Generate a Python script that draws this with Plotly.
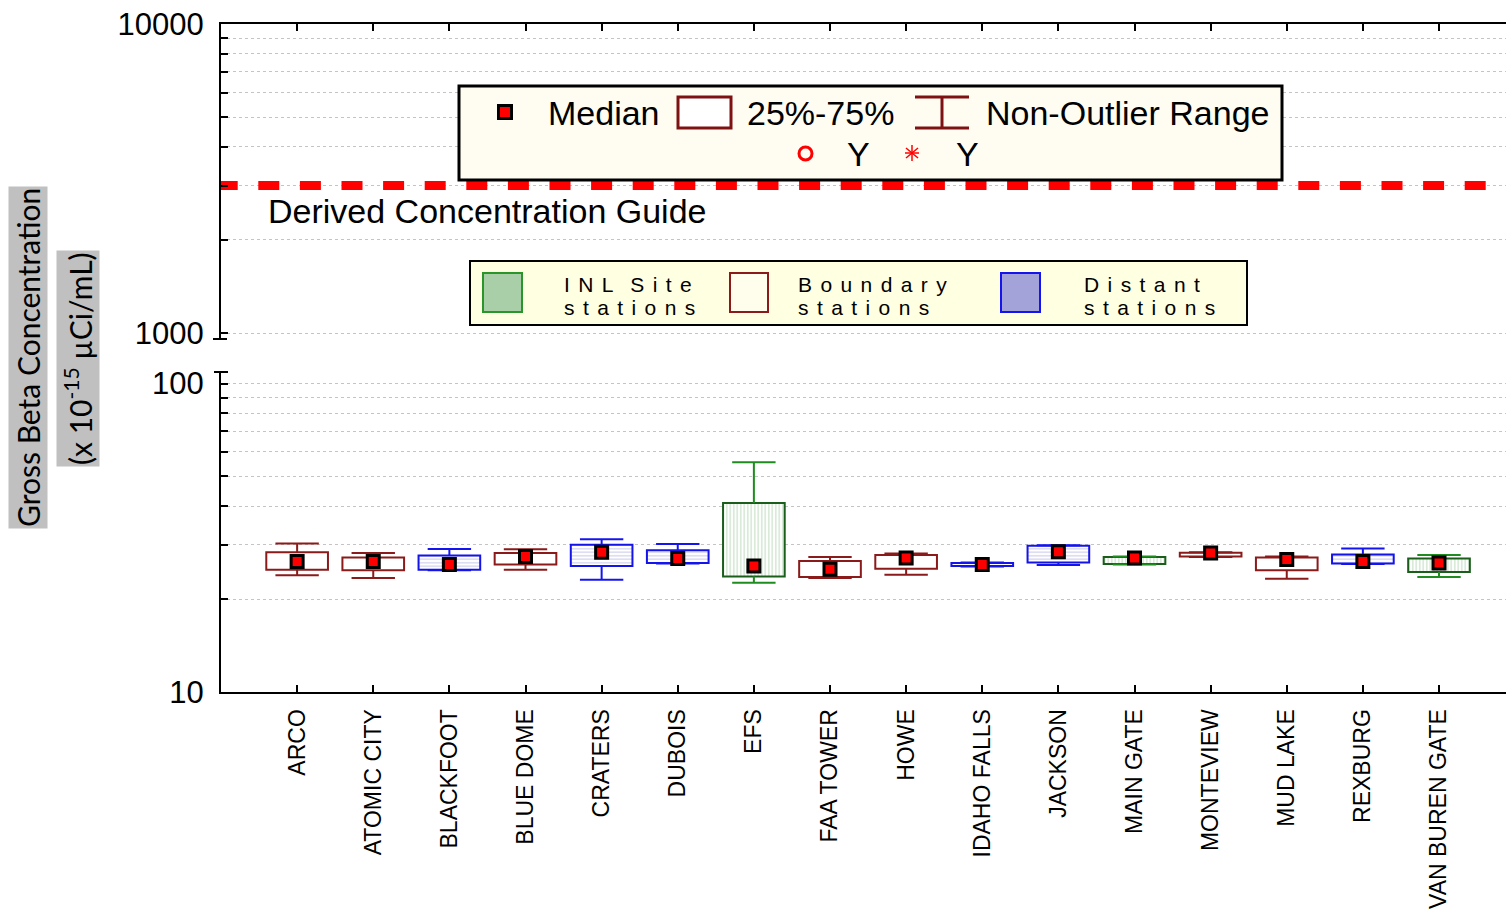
import plotly.graph_objects as go

# Air monitoring stations and their gross beta statistics (x 10^-15 uCi/mL)
stations = ["ARCO", "ATOMIC CITY", "BLACKFOOT", "BLUE DOME", "CRATERS", "DUBOIS",
            "EFS", "FAA TOWER", "HOWE", "IDAHO FALLS", "JACKSON", "MAIN GATE",
            "MONTEVIEW", "MUD LAKE", "REXBURG", "VAN BUREN GATE"]
group = ["boundary", "boundary", "distant", "boundary", "distant", "distant",
         "site", "boundary", "boundary", "distant", "distant", "site",
         "boundary", "boundary", "distant", "site"]
low = [23.9, 23.4, 24.8, 24.9, 23.1, 26.1, 22.6, 23.4, 24.0, 25.5, 25.8, 25.9, 27.4, 23.3, 26.0, 23.6]
q1 = [24.9, 24.8, 24.9, 25.9, 25.6, 26.2, 23.7, 23.6, 25.1, 25.6, 26.3, 26.0, 27.5, 24.8, 26.1, 24.5]
median = [26.5, 26.5, 25.9, 27.5, 28.4, 27.1, 25.6, 25.0, 27.2, 25.9, 28.5, 27.2, 28.2, 26.9, 26.5, 26.2]
q3 = [28.4, 27.3, 27.7, 28.2, 30.0, 28.8, 41.0, 26.6, 27.8, 26.2, 29.8, 27.4, 28.3, 27.3, 27.9, 27.1]
high = [30.3, 28.2, 29.1, 29.0, 31.3, 30.2, 55.6, 27.4, 28.1, 26.3, 29.9, 27.5, 28.4, 27.5, 29.2, 27.8]
dcg = 3000

lower_major = [10, 100]
lower_minor = [20, 30, 40, 50, 60, 70, 80, 90]
upper_major = [1000, 10000]
upper_minor = [2000, 3000, 4000, 5000, 6000, 7000, 8000, 9000]

W, H = 1506, 919
L, R, T, B = 221, 0, 24, 227
PW, PH = W - L - R, H - T - B
XR = [-1.0, 15.88]

styles = {
    "boundary": dict(line="#8B1A1A", whisk="#8B1A1A", fill="white", shape="", fg="white"),
    "distant": dict(line="#1414E8", whisk="#1414F0", fill="white", shape="-", fg="#9C9CE0"),
    "site": dict(line="#1B5E1B", whisk="#1E8C1E", fill="white", shape="|", fg="#94C494"),
}
FONT = "Liberation Sans, Arial, sans-serif"
BOX_W = 0.81
CAP = 0.285


def px_x(p):
    return (p - L) / PW


def px_y(p):
    return (H - B - p) / PH


fig = go.Figure()

# DCG reference line on the upper panel
fig.add_trace(go.Scatter(
    x=[-1.0565, XR[1]], y=[dcg, dcg], xaxis="x2", yaxis="y2", mode="lines",
    line=dict(color="#FF0000", width=9, dash="21px,20.6px"), hoverinfo="skip"))

for g, st in styles.items():
    idx = [i for i in range(len(stations)) if group[i] == g]
    # interquartile boxes
    fig.add_trace(go.Bar(
        x=idx, y=[q3[i] - q1[i] for i in idx], base=[q1[i] for i in idx],
        width=BOX_W, xaxis="x", yaxis="y",
        marker=dict(color=st["fill"], line=dict(color=st["line"], width=2),
                    pattern=dict(shape=st["shape"], fgcolor=st["fg"], bgcolor="white",
                                 size=3.5, solidity=0.35)),
        hoverinfo="skip"))
    # whiskers with caps
    wx, wy = [], []
    for i in idx:
        wx += [i, i, None, i, i, None, i - CAP, i + CAP, None, i - CAP, i + CAP, None]
        wy += [q3[i], high[i], None, q1[i], low[i], None, high[i], high[i], None, low[i], low[i], None]
    fig.add_trace(go.Scatter(x=wx, y=wy, mode="lines", xaxis="x", yaxis="y",
                             line=dict(color=st["whisk"], width=2), hoverinfo="skip"))

# medians
fig.add_trace(go.Scatter(
    x=list(range(len(stations))), y=median, mode="markers", xaxis="x", yaxis="y",
    marker=dict(symbol="square", size=12, color="#FF0000", line=dict(color="black", width=3)),
    hoverinfo="skip"))

shapes = []
annotations = []

# axis break caps
shapes.append(dict(type="line", xref="paper", yref="paper", x0=px_x(213), x1=px_x(227),
                   y0=px_y(339), y1=px_y(339), line=dict(color="black", width=2)))
shapes.append(dict(type="line", xref="paper", yref="paper", x0=px_x(214), x1=px_x(228),
                   y0=px_y(372), y1=px_y(372), line=dict(color="black", width=2)))


def rect(x0, y0, x1, y1, fill, line, lw):
    shapes.append(dict(type="rect", xref="paper", yref="paper",
                       x0=px_x(x0), x1=px_x(x1), y0=px_y(y1), y1=px_y(y0),
                       fillcolor=fill, line=dict(color=line, width=lw), layer="above"))


def seg(x0, y0, x1, y1, color, lw):
    shapes.append(dict(type="line", xref="paper", yref="paper",
                       x0=px_x(x0), x1=px_x(x1), y0=px_y(y0), y1=px_y(y1),
                       line=dict(color=color, width=lw), layer="above"))


def text(x, y, s, size, xanchor="left", color="black", family=FONT):
    annotations.append(dict(xref="paper", yref="paper", x=px_x(x), y=px_y(y), text=s,
                            showarrow=False, xanchor=xanchor, yanchor="middle",
                            font=dict(size=size, color=color, family=family)))


# box-plot key
rect(459, 86, 1282, 180, "#FFFDF2", "black", 3)
rect(498.5, 105.5, 511.5, 118.5, "#FF0000", "black", 3)
text(546, 113, "Median", 34)
rect(678, 97, 731, 128, "white", "#7E1212", 3)
text(745, 113, "25%-75%", 34)
seg(915, 97, 969, 97, "#7E1212", 3)
seg(915, 128, 969, 128, "#7E1212", 3)
seg(942, 97, 942, 128, "#7E1212", 3)
text(984, 113, "Non-Outlier Range", 34)
shapes.append(dict(type="circle", xref="paper", yref="paper",
                   x0=px_x(799), x1=px_x(812), y0=px_y(160), y1=px_y(147),
                   line=dict(color="#FF0000", width=3), layer="above"))
text(858, 154, "Y", 34, xanchor="center")
for dx, dy in [(0, 8), (6, 5), (6, -5)]:
    seg(912 - dx, 153 - dy, 912 + dx, 153 + dy, "#FF0000", 1.5)
seg(905, 153, 919, 153, "#FF0000", 1.5)
text(967, 154, "Y", 34, xanchor="center")

# DCG label
text(266, 211, "Derived Concentration Guide", 34)

# station-group key
rect(470, 261, 1247, 325, "#FFFFE2", "black", 2)
G = "\u2009\u2009"
rect(483, 273, 522, 312, "#A8CFA8", "#2A962A", 2)
text(562, 284, G.join("INL") + G + G + G.join("Site"), 21)
text(562, 307, G.join("stations"), 21)
rect(730, 273, 768, 312, "#FFFDEB", "#8B1A1A", 2)
text(796, 284, G.join("Boundary"), 21)
text(796, 307, G.join("stations"), 21)
rect(1001, 273, 1040, 312, "#A3A3DA", "#1414F0", 2)
text(1082, 284, G.join("Distant"), 21)
text(1082, 307, G.join("stations"), 21)

# y-axis title
annotations.append(dict(xref="paper", yref="paper", x=px_x(28), y=px_y(358),
                        text="Gross Beta Concentration", textangle=-90, showarrow=False,
                        xanchor="center", yanchor="middle", bgcolor="#C0C0C0", borderpad=1,
                        font=dict(size=30, color="black", family="Lato, sans-serif")))
annotations.append(dict(xref="paper", yref="paper", x=px_x(78), y=px_y(359),
                        text="(x 10<sup>-15</sup> \u00b5Ci/mL)", textangle=-90, showarrow=False,
                        xanchor="center", yanchor="middle", bgcolor="#C0C0C0", borderpad=1,
                        font=dict(size=30, color="black", family="Lato, sans-serif")))

grid = dict(showgrid=True, gridcolor="#C4C4C4", griddash="dot", gridwidth=1)
tick_common = dict(ticks="inside", ticklen=7, tickwidth=1.5, tickcolor="black",
                   showline=True, linecolor="black", linewidth=2, zeroline=False,
                   automargin=False)
fig.update_layout(
    width=W, height=H, margin=dict(l=L, r=R, t=T, b=B, pad=0, autoexpand=False),
    paper_bgcolor="white", plot_bgcolor="white", showlegend=False, barmode="overlay",
    font=dict(family=FONT, color="black"),
    xaxis=dict(domain=[0, 1], range=XR, anchor="y", tickmode="array",
               tickvals=list(range(len(stations))), ticktext=stations, tickangle=-90,
               showgrid=False, tickfont=dict(size=23), ticklabelstandoff=6, **tick_common),
    xaxis2=dict(domain=[0, 1], range=XR, anchor="y2", side="top", tickmode="array",
                tickvals=list(range(len(stations))), showticklabels=False,
                showgrid=False, **tick_common),
    yaxis=dict(domain=[0, px_y(372)], type="log", range=[1, 2.0373], anchor="x",
               tickmode="array", tickvals=lower_major, ticktext=[str(v) for v in lower_major],
               tickfont=dict(size=31), ticklabelstandoff=9,
               minor=dict(tickmode="array", tickvals=lower_minor, ticks="inside", ticklen=7,
                          tickwidth=1.5, tickcolor="black", **grid),
               **grid, **tick_common),
    yaxis2=dict(domain=[px_y(339), 1], type="log", range=[2.9806, 4], anchor="x2",
                tickmode="array", tickvals=upper_major, ticktext=[str(v) for v in upper_major],
                tickfont=dict(size=31), ticklabelstandoff=9,
                minor=dict(tickmode="array", tickvals=upper_minor, ticks="inside", ticklen=7,
                           tickwidth=1.5, tickcolor="black", **grid),
                **grid, **tick_common),
    shapes=shapes, annotations=annotations,
)

fig.write_html("out.html")
